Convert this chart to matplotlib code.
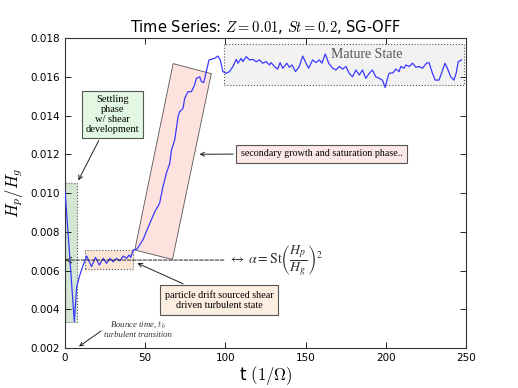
import numpy as np
import matplotlib
matplotlib.use('Agg')
from matplotlib import pyplot as plt
from matplotlib.patches import Rectangle, Polygon

plt.rcParams['mathtext.fontset'] = 'cm'

# time (1/Omega) and Hp/Hg
t = [0, 5.8, 7.3, 8.9, 11, 13.5, 16.5, 19, 21.4, 23.8, 25.9, 28, 30, 32.1,
     34.2, 36.3, 38.4, 40, 41, 42.5, 45, 48.7, 52.9, 56, 59, 61.1, 63.2,
     65.3, 66.4, 68.4, 70.5, 71.5, 73.6, 74.6, 76.7, 78.8, 80.8, 81.9, 84,
     85, 86.5, 88.1, 89.8, 93.3, 95.3, 96.8, 98.4, 100.5, 102.6, 104.7,
     106.8, 107.8, 109.9, 110.9, 113, 115, 117.1, 119.2, 121.3, 123.3,
     125.4, 127.5, 128.5, 130.6, 132.6, 134.1, 135.8, 138.3, 139.9, 141.6,
     143.7, 146.1, 148.2, 150.3, 151.9, 154.4, 156.5, 158.6, 160.2, 162.3,
     164.4, 166.9, 169, 171, 173.1, 175.2, 177.2, 179.3, 181.4, 183.5,
     185.5, 187.6, 189.7, 191.7, 193.8, 195.9, 197.9, 199.6, 201.1, 202.1,
     204.6, 206.3, 208.3, 209.4, 211.4, 212.5, 214.6, 216.7, 218.8, 220.8,
     222.9, 225.4, 227, 229.1, 230.8, 233.2, 234.9, 236.9, 238.4, 240.5,
     242.5, 243.9, 245.2, 247.3]
hp = [0.01015, 0.00336, 0.00516, 0.00568, 0.0062, 0.00675, 0.0062, 0.00668,
      0.00628, 0.00663, 0.00637, 0.00663, 0.00645, 0.00663, 0.0065, 0.00675,
      0.00663, 0.0068, 0.00668, 0.00706, 0.00712, 0.0076, 0.00844, 0.00904,
      0.00947, 0.01033, 0.01102, 0.01153, 0.01222, 0.01274, 0.01394, 0.0142,
      0.01437, 0.01488, 0.01523, 0.01523, 0.01557, 0.01592, 0.016, 0.01575,
      0.0157, 0.01627, 0.01687, 0.01695, 0.01707, 0.01687, 0.01627, 0.01618,
      0.01627, 0.01653, 0.0169, 0.0167, 0.01695, 0.01678, 0.01704, 0.01687,
      0.0169, 0.01678, 0.01687, 0.0167, 0.01678, 0.01661, 0.01673, 0.01653,
      0.0164, 0.01673, 0.01644, 0.0167, 0.01649, 0.01661, 0.01627, 0.01653,
      0.01707, 0.0167, 0.01644, 0.01687, 0.01673, 0.01687, 0.0167, 0.01718,
      0.0167, 0.01644, 0.01635, 0.01653, 0.0164, 0.01653, 0.01618, 0.016,
      0.01635, 0.01609, 0.01635, 0.01592, 0.01618, 0.01635, 0.016, 0.01592,
      0.01583, 0.01545, 0.01592, 0.01618, 0.01621, 0.0164, 0.01627, 0.01653,
      0.01644, 0.01661, 0.01653, 0.0167, 0.01649, 0.01653, 0.01644, 0.0167,
      0.01673, 0.01618, 0.01583, 0.01583, 0.01621, 0.0167, 0.01644, 0.016,
      0.01583, 0.01618, 0.01678, 0.01687]

xticks = [0, 50, 100, 150, 200, 250]
yticks = [0.002, 0.004, 0.006, 0.008, 0.010, 0.012, 0.014, 0.016, 0.018]

fig = plt.figure(figsize=(5.18, 3.88), dpi=100)
ax = fig.add_axes([0.1255, 0.103, 0.774, 0.799])

# shaded phase regions
ax.add_patch(Rectangle((0, 0.00333), 7.3, 0.0072, fc='#d3e5d3', ec='#555555',
                       ls=':', lw=0.8, zorder=1))
ax.add_patch(Rectangle((12.4, 0.00606), 30.1, 0.001, fc='#fbe6d6', ec='#555555',
                       ls=':', lw=0.8, zorder=1))
ax.add_patch(Polygon([(43.5, 0.00706), (67.4, 0.01668), (91.2, 0.01616), (67, 0.00657)],
                     closed=True, fc='#fde2de', ec='#555555', lw=0.6, zorder=1))
ax.add_patch(Rectangle((99, 0.01555), 149.8, 0.00213, fc='#f2f2f2', ec='#555555',
                       ls=':', lw=0.8, zorder=1))

ax.plot(t, hp, color='#3a3aff', lw=0.9, zorder=3)

ax.set_xlim(0, 250)
ax.set_ylim(0.002, 0.018)
ax.set_xticks(xticks)
ax.set_yticks(yticks)
ax.set_yticklabels(['%.3f' % v for v in yticks])
ax.tick_params(direction='in', top=True, right=True, labelsize=7.5, length=4, width=0.6)
for s in ax.spines.values():
    s.set_color('#333333')

ax.set_title(r'Time Series: $Z=0.01$, $St=0.2$, SG-OFF', fontsize=10.5, pad=4)
ax.set_xlabel(r't $(1/\Omega)$', fontsize=12, labelpad=1)
ax.set_ylabel(r'$H_p/H_g$', fontsize=12, labelpad=4)

serif = 'Liberation Serif'
ax.annotate('Settling\nphase\nw/ shear\ndevelopment', xy=(7.5, 0.01052), xytext=(29.4, 0.01406),
            ha='center', va='center', family=serif, fontsize=7.5, linespacing=1.15,
            bbox=dict(boxstyle='square,pad=0.35', fc='#e2f8e2', ec='#555555', lw=0.8),
            arrowprops=dict(arrowstyle='->', color='#222222', lw=0.7), zorder=5)
ax.annotate('particle drift sourced shear\ndriven turbulent state', xy=(43.5, 0.00644),
            xytext=(96, 0.00448), ha='center', va='center', family=serif, fontsize=7.3,
            linespacing=1.05,
            bbox=dict(boxstyle='square,pad=0.5', fc='#fdeee2', ec='#555555', lw=0.8),
            arrowprops=dict(arrowstyle='->', color='#222222', lw=0.7), zorder=5)
ax.annotate('secondary growth and saturation phase..', xy=(82.1, 0.012), xytext=(160.1, 0.01203),
            ha='center', va='center', family=serif, fontsize=7.2,
            bbox=dict(boxstyle='square,pad=0.45', fc='#fde8e8', ec='#555555', lw=0.8),
            arrowprops=dict(arrowstyle='->', color='#222222', lw=0.7), zorder=5)
ax.text(188.4, 0.01716, 'Mature State', ha='center', va='center', family=serif,
        fontsize=10, color='#555555', zorder=5)
ax.annotate('Bounce time, $t_b$\nturbulent transition', xy=(7.3, 0.002), xytext=(45.4, 0.00298),
            ha='center', va='center', family=serif, style='italic', fontsize=6.3,
            color='#333333', linespacing=1.1,
            arrowprops=dict(arrowstyle='->', color='#222222', lw=0.7,
                            shrinkA=0, relpos=(0.0, 0.5)), zorder=5)
ax.annotate('', xy=(0, 0.00654), xytext=(99, 0.00654),
            arrowprops=dict(arrowstyle='->', color='#222222', lw=0.7, ls='--',
                            shrinkA=0, shrinkB=0), zorder=5)
ax.text(101.5, 0.00654, r'$\leftrightarrow\ \alpha = \mathrm{St}\left(\dfrac{H_p}{H_g}\right)^2$',
        ha='left', va='center', fontsize=10, color='#333333', math_fontfamily='stix',
        zorder=5)

fig.savefig('out.png', dpi=100)
